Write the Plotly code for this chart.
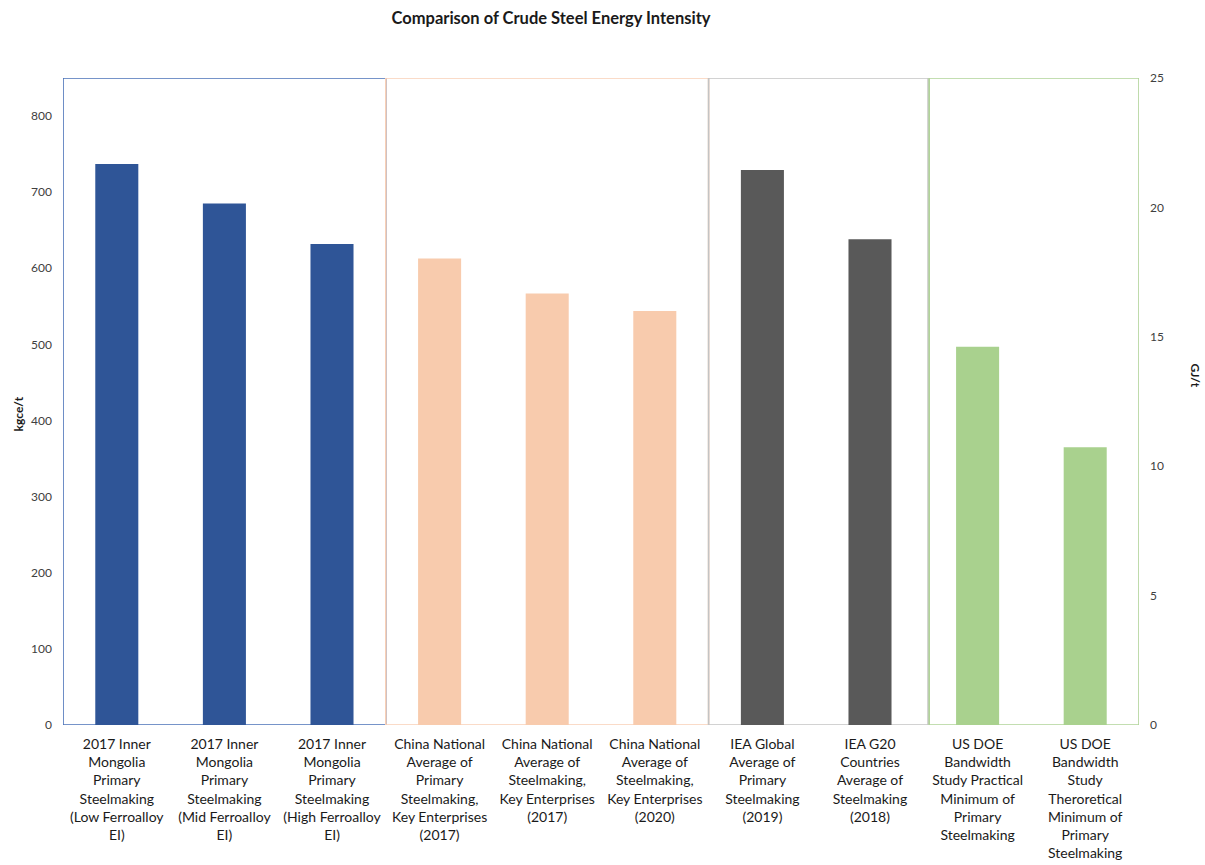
import plotly.graph_objects as go

# Category labels (pre-wrapped for the x axis)
categories = [
    "2017 Inner<br>Mongolia<br>Primary<br>Steelmaking<br>(Low Ferroalloy<br>EI)",
    "2017 Inner<br>Mongolia<br>Primary<br>Steelmaking<br>(Mid Ferroalloy<br>EI)",
    "2017 Inner<br>Mongolia<br>Primary<br>Steelmaking<br>(High Ferroalloy<br>EI)",
    "China National<br>Average of<br>Primary<br>Steelmaking,<br>Key Enterprises<br>(2017)",
    "China National<br>Average of<br>Steelmaking,<br>Key Enterprises<br>(2017)",
    "China National<br>Average of<br>Steelmaking,<br>Key Enterprises<br>(2020)",
    "IEA Global<br>Average of<br>Primary<br>Steelmaking<br>(2019)",
    "IEA G20<br>Countries<br>Average of<br>Steelmaking<br>(2018)",
    "US DOE<br>Bandwidth<br>Study Practical<br>Minimum of<br>Primary<br>Steelmaking",
    "US DOE<br>Bandwidth<br>Study<br>Theroretical<br>Minimum of<br>Primary<br>Steelmaking",
]

# Energy intensity, kgce per tonne of crude steel
kgce_per_t = [737, 685, 632, 613, 567, 544, 729, 638, 497, 365]

# Source groups: index range of each group and its colours
group_ranges = [(0, 2), (3, 5), (6, 7), (8, 9)]
bar_colors = ["#2F5597", "#F8CBAD", "#595959", "#A9D18E"]
box_colors = ["#4A72B8", "#F9D0B6", "#C4C4C4", "#B0D398"]

# Axis ranges and ticks
kgce_range = [0, 850]
kgce_ticks = [0, 100, 200, 300, 400, 500, 600, 700, 800]
gj_range = [0, 25]
gj_ticks = [0, 5, 10, 15, 20, 25]

colors = []
for (a, b), c in zip(group_ranges, bar_colors):
    colors += [c] * (b - a + 1)

xpos = list(range(len(categories)))

fig = go.Figure()
fig.add_trace(go.Bar(
    x=xpos, y=kgce_per_t, width=0.4,
    marker=dict(color=colors, line=dict(width=0)),
    showlegend=False, hoverinfo="y",
))
# Empty trace so the secondary (GJ/t) axis is laid out
fig.add_trace(go.Scatter(x=[], y=[], yaxis="y2", showlegend=False,
                         hoverinfo="skip"))

# Frames around each source group
box_edges = [(-0.5, 2.5), (2.5, 5.5), (5.5, 7.54), (7.55, 9.5)]
for (x0, x1), c in zip(box_edges, box_colors):
    fig.add_shape(type="rect", xref="x", yref="y", x0=x0, x1=x1,
                  y0=kgce_range[0], y1=kgce_range[1],
                  line=dict(color=c, width=1.6), layer="below")

font_family = "Lato, 'Open Sans', sans-serif"

fig.update_layout(
    width=1205, height=865,
    margin=dict(l=63, r=66, t=78, b=140),
    plot_bgcolor="white", paper_bgcolor="white",
    bargap=0.6,
    font=dict(family=font_family, size=13, color="#404040"),
    title=dict(text="<b>Comparison of Crude Steel Energy Intensity</b>",
               x=551 / 1205, xanchor="center", y=1 - 18 / 865, yanchor="middle",
               font=dict(family=font_family, size=16.5, color="#1a1a1a")),
    xaxis=dict(
        range=[-0.5, 9.5], tickmode="array", tickvals=xpos, ticktext=categories,
        showgrid=False, zeroline=False, showline=False, ticks="",
        tickangle=0, tickfont=dict(size=14, color="#1a1a1a"),
        ticklabelstandoff=9, automargin=False,
    ),
    yaxis=dict(
        range=kgce_range, tickmode="array", tickvals=kgce_ticks,
        showgrid=False, zeroline=False, showline=False, ticks="",
        tickfont=dict(size=12, color="#404040"), ticklabelstandoff=10,
        automargin=False,
    ),
    yaxis2=dict(
        range=gj_range, tickmode="array", tickvals=gj_ticks,
        overlaying="y", side="right", anchor="x",
        showgrid=False, zeroline=False, showline=False, ticks="",
        tickfont=dict(size=12, color="#404040"), ticklabelstandoff=10,
        automargin=False,
    ),
)

# Axis titles
fig.add_annotation(text="<b>kgce/t</b>", xref="paper", yref="paper",
                   x=-45 / 1076, y=0.48, xanchor="center", yanchor="middle",
                   textangle=-90, showarrow=False,
                   font=dict(size=12, color="#1a1a1a"))
fig.add_annotation(text="<b>GJ/t</b>", xref="paper", yref="paper",
                   x=1 + 56 / 1076, y=0.54, xanchor="center", yanchor="middle",
                   textangle=90, showarrow=False,
                   font=dict(size=12, color="#1a1a1a"))

fig.write_html("out.html")
